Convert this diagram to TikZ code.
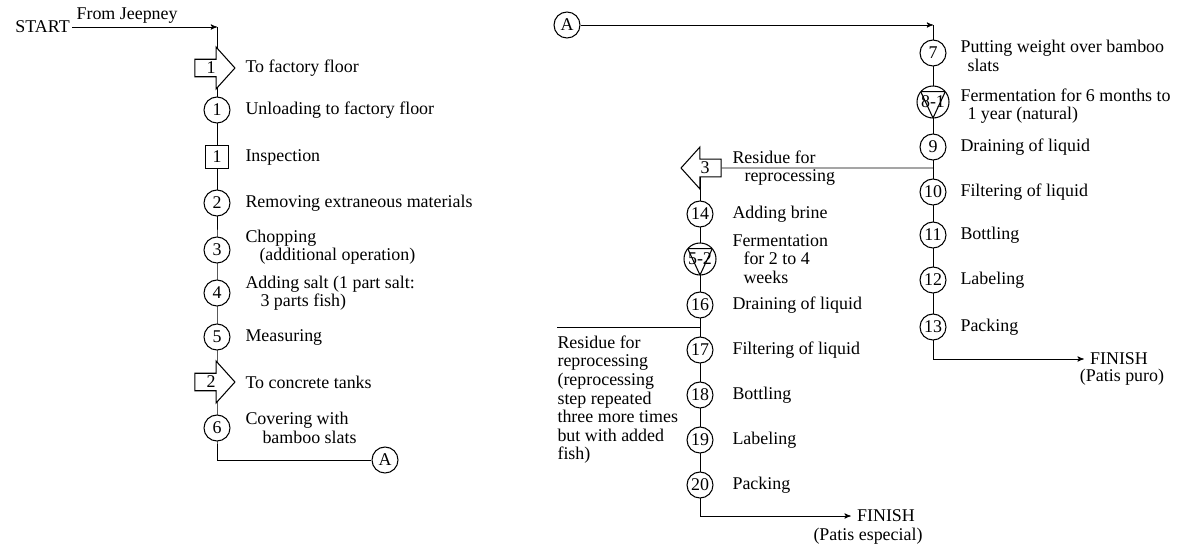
\documentclass[tikz,border=0pt]{standalone}
\usepackage{fontspec}
\setmainfont{Liberation Serif}
\usetikzlibrary{arrows, shapes.arrows, backgrounds, positioning}

\tikzset{
  op/.style={circle, draw, fill=white, minimum size=0.52cm, inner sep=0pt},
  insp/.style={rectangle, draw, fill=white, minimum size=0.46cm, inner sep=0pt},
  ferm/.style={circle, draw, fill=white, minimum size=0.64cm, inner sep=0pt,
    path picture={\draw
      ([shift={(140:0.32cm)}]path picture bounding box.center) --
      ([shift={(40:0.32cm)}]path picture bounding box.center) --
      ([shift={(270:0.32cm)}]path picture bounding box.center) -- cycle;}},
  move/.style={single arrow, draw, fill=white, minimum height=0.8cm, minimum width=0.84cm,
    single arrow head extend=0.23cm, single arrow tip angle=96, inner sep=1pt},
  lab/.style={anchor=west, inner sep=0pt, align=left},
}

\begin{document}
\begin{tikzpicture}[x=0.02cm, y=-0.02cm, >=stealth', line width=0.6pt,
    every node/.style={font=\fontsize{10.2}{10.6}\selectfont}]
	\useasboundingbox (0,0) rectangle (1179,548);

	% left column
	\node [anchor=east, inner sep=1pt] (start) at (72,27) {START};
	\coordinate (jc) at (217,27);
	\node [move]		(t1)	at (211,68)		{1};
	\node [op]		(c1)	at (217,110)	{1};
	\node [insp]		(sq1)	at (217,157)	{1};
	\node [op]		(c2)	at (217,203)	{2};
	\node [op]		(c3)	at (217,250)	{3};
	\node [op]		(c4)	at (217,293)	{4};
	\node [op]		(c5)	at (217,337)	{5};
	\node [move]		(t2)	at (211,382)	{2};
	\node [op]		(c6)	at (217,428)	{6};
	\node [op]		(A1)	at (385,460)	{A};

	\node [lab] at (245,68)		{To factory floor};
	\node [lab] at (245,110)	{Unloading to factory floor};
	\node [lab] at (245,157)	{Inspection};
	\node [lab] at (245,203)	{Removing extraneous materials};
	\node [lab] at (245,247)	{Chopping\\\hspace*{0.28cm}(additional operation)};
	\node [lab] at (245,293)	{Adding salt (1 part salt:\\\hspace*{0.3cm}3 parts fish)};
	\node [lab] at (245,337)	{Measuring};
	\node [lab] at (245,382)	{To concrete tanks};
	\node [lab] at (245,428)	{Covering with\\\hspace*{0.34cm}bamboo slats};

	% right column
	\node [op]		(A2)	at (567,25)		{A};
	\coordinate (jc2) at (933,25);
	\node [op]		(c7)	at (933,53)		{7};
	\node [ferm]		(f81)	at (933,102)	{8-1};
	\node [op]		(c9)	at (933,147)	{9};
	\node [op]		(c10)	at (933,192)	{10};
	\node [op]		(c11)	at (933,235)	{11};
	\node [op]		(c12)	at (933,280)	{12};
	\node [op]		(c13)	at (933,327)	{13};
	\node (fin1) at (1119,359) {FINISH};
	\node at (1122,377) {(Patis puro)};

	\node [lab] at (960,56)		{Putting weight over bamboo\\\hspace*{0.14cm}slats};
	\node [lab] at (960,106)	{Fermentation for 6 months to\\\hspace*{0.14cm}1 year (natural)};
	\node [lab] at (960,147)	{Draining of liquid};
	\node [lab] at (960,192)	{Filtering of liquid};
	\node [lab] at (960,235)	{Bottling};
	\node [lab] at (960,280)	{Labeling};
	\node [lab] at (960,327)	{Packing};

	% middle column
	\node [move, shape border rotate=180]	(t3)	at (705,168)	{3};
	\node [op]		(c14)	at (700,214)	{14};
	\node [ferm]		(f52)	at (700,259)	{5-2};
	\node [op]		(c16)	at (700,305)	{16};
	\node [op]		(c17)	at (700,350)	{17};
	\node [op]		(c18)	at (700,395)	{18};
	\node [op]		(c19)	at (700,440)	{19};
	\node [op]		(c20)	at (700,485)	{20};
	\node (fin2) at (886,516) {FINISH};
	\node at (868,536) {(Patis especial)};
	\coordinate (rb) at (557,327);

	\node [lab] at (732,168)	{Residue for\\\hspace*{0.24cm}reprocessing};
	\node [lab] at (732,214)	{Adding brine};
	\node [lab] at (732,259)	{Fermentation\\\hspace*{0.22cm}for 2 to 4\\\hspace*{0.22cm}weeks};
	\node [lab] at (732,305)	{Draining of liquid};
	\node [lab] at (732,350)	{Filtering of liquid};
	\node [lab] at (732,395)	{Bottling};
	\node [lab] at (732,440)	{Labeling};
	\node [lab] at (732,485)	{Packing};
	\node [lab, anchor=north west] at (557,335)	{Residue for\\reprocessing\\(reprocessing\\step repeated\\three more times\\but with added\\fish)};

	\begin{scope}[on background layer]
		\draw [->] (start) -- node [above, pos=0.38, inner sep=2pt] {From Jeepney} (jc);
		\draw (jc) -- (c6.center) |- (A1);
		\draw [->] (A2) -- (jc2);
		\draw [->] (jc2) -- (c13.center) |- (fin1);
		\draw (t3) -- (t3 -| c9);
		\draw [->] (t3 -| c14) -- (c20.center) |- (fin2);
		\draw (rb) -- (rb -| c16);
	\end{scope}
\end{tikzpicture}
\end{document}
